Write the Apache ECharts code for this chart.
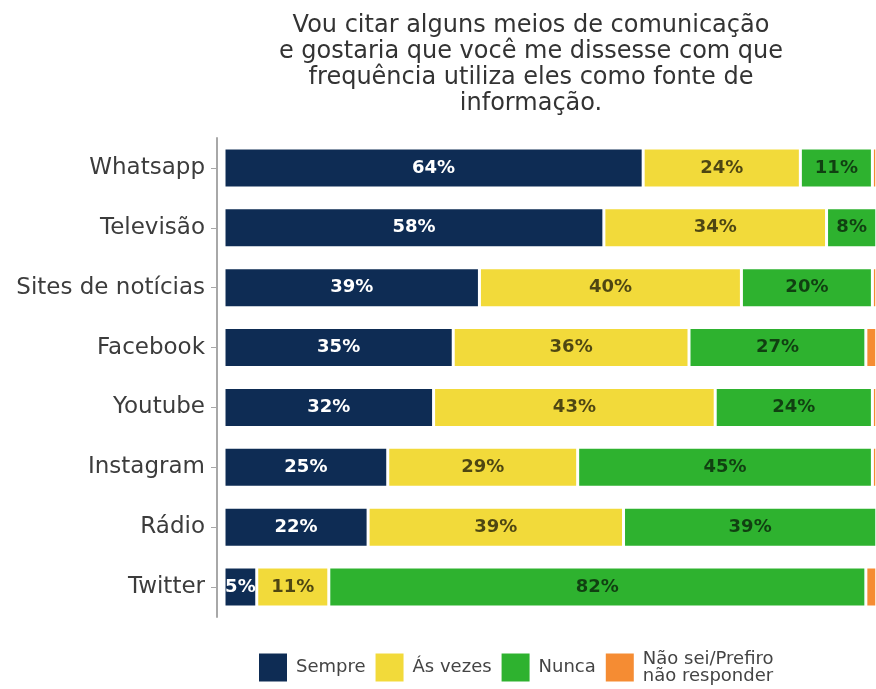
<!DOCTYPE html>
<html>
<head>
<meta charset="utf-8">
<script src="https://cdn.jsdelivr.net/npm/echarts@6/dist/echarts.min.js"></script>
<style>
html,body{margin:0;padding:0;background:#fff;}
#chart{width:876px;height:689px;}
</style>
</head>
<body>
<div id="chart"></div>
<script>
const titleText = 'Vou citar alguns meios de comunicação\ne gostaria que você me dissesse com que\nfrequência utiliza eles como fonte de\ninformação.';
const categories = ['Whatsapp', 'Televisão', 'Sites de notícias', 'Facebook', 'Youtube', 'Instagram', 'Rádio', 'Twitter'];
const seriesNames = ['Sempre', 'Ás vezes', 'Nunca', 'Não sei/Prefiro\nnão responder'];
const sempre = [64, 58, 39, 35, 32, 25, 22, 5];
const asVezes = [24, 34, 40, 36, 43, 29, 39, 11];
const nunca = [11, 8, 20, 27, 24, 45, 39, 82];
const naoSei = [1, 0, 1, 2, 1, 1, 0, 2];
const colors = ['#0E2C54', '#F2DA3A', '#2EB22F', '#F58C33'];
const labelColors = ['#ffffff', 'rgba(0,0,0,0.68)', 'rgba(0,0,0,0.64)', '#333'];

const FONT = 'DejaVu Sans';
const values = [sempre, asVezes, nunca, naoSei];

const series = values.map((arr, i) => ({
  name: seriesNames[i],
  type: 'bar',
  stack: 'total',
  barWidth: 40,
  clip: true,
  data: arr,
  itemStyle: { color: colors[i], borderColor: '#ffffff', borderWidth: 1.5 },
  label: {
    show: i < 3,
    position: 'inside',
    formatter: '{c}%',
    color: labelColors[i],
    fontFamily: FONT,
    fontWeight: 'bold',
    fontSize: 18
  }
}));

const chart = echarts.init(document.getElementById('chart'), null, { renderer: 'canvas' });
chart.setOption({
  animation: false,
  backgroundColor: '#ffffff',
  color: colors,
  title: {
    text: titleText,
    left: 526,
    top: 8,
    textAlign: 'center',
    textStyle: {
      fontFamily: FONT,
      fontWeight: 'normal',
      fontSize: 24,
      lineHeight: 26,
      color: '#333333',
      align: 'center'
    }
  },
  legend: {
    left: 257,
    bottom: 4,
    padding: 0,
    itemWidth: 30,
    itemHeight: 30,
    itemGap: 8,
    icon: 'rect',
    data: seriesNames,
    textStyle: {
      fontFamily: FONT,
      fontSize: 18,
      lineHeight: 17,
      color: '#444444',
      padding: [0, 0, 0, 3]
    }
  },
  grid: {
    left: 217,
    right: 0,
    top: 138,
    bottom: 72,
    containLabel: false
  },
  xAxis: {
    type: 'value',
    min: -1.07,
    max: 99.55,
    show: false
  },
  yAxis: {
    type: 'category',
    data: categories,
    inverse: true,
    axisLine: { show: true, onZero: false, lineStyle: { color: '#a8a8a8', width: 2 } },
    axisTick: { show: true, alignWithLabel: true, length: 6, lineStyle: { color: '#a8a8a8', width: 1 } },
    axisLabel: {
      fontFamily: FONT,
      fontSize: 23,
      color: '#3c3c3c',
      margin: 12
    }
  },
  series: series
});
</script>
</body>
</html>
